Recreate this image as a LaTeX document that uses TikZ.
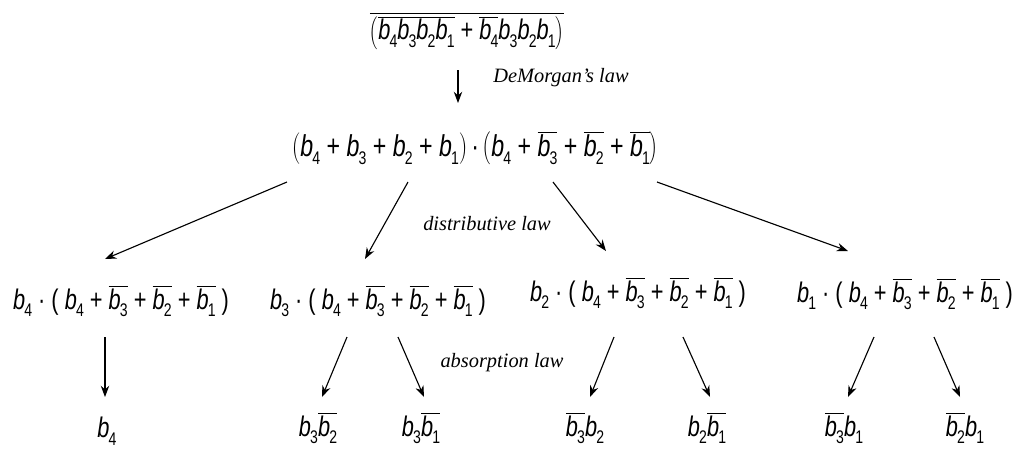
\documentclass[tikz,border=0pt]{standalone}
\usepackage{fontspec}
\usepackage{graphicx}
\setmainfont{Liberation Sans}
\newfontfamily\lawfont{Liberation Serif}
\usetikzlibrary{arrows.meta,calc}

\newcommand{\bv}[1]{\textit{b}\kern-0.04em\raisebox{-0.5ex}{\fontsize{10}{10}\selectfont #1}}
\newcommand{\nb}[1]{$\overline{\mbox{\bv{#1}}}$}
\newcommand{\vstr}[1]{\scalebox{1}[1.3]{#1}}

\begin{document}
\begin{tikzpicture}[x=0.025cm, y=-0.025cm,
    expr/.style={inner sep=0pt, font=\fontsize{15.5}{18}\selectfont},
    law/.style={inner sep=0pt, font=\lawfont\itshape\fontsize{14.5}{17}\selectfont},
    arrow/.style={-{Stealth[length=8pt,width=6pt]}, thick}
]
    \useasboundingbox (0,0) rectangle (1015,450);

    \node[expr] (top) at (467,31) {\vstr{$\overline{\left(\mbox{\nb4\nb3\nb2\nb1 + \nb4\bv3\bv2\bv1}\right)}$}};
    \node[expr, font=\fontsize{16.5}{19}\selectfont] (dem) at (475,148) {\vstr{$\left(\mbox{\bv4 + \bv3 + \bv2 + \bv1}\right)$\,·\,$\left(\mbox{\bv4 + \nb3 + \nb2 + \nb1}\right)$}};

    \node[expr] (t4) at (121,301) {\vstr{\bv4 · ( \bv4 + \nb3 + \nb2 + \nb1 )}};
    \node[expr] (t3) at (378,301) {\vstr{\bv3 · ( \bv4 + \nb3 + \nb2 + \nb1 )}};
    \node[expr] (t2) at (638,293) {\vstr{\bv2 · ( \bv4 + \nb3 + \nb2 + \nb1 )}};
    \node[expr] (t1) at (905,294) {\vstr{\bv1 · ( \bv4 + \nb3 + \nb2 + \nb1 )}};

    \node[expr] (r4) at (107,431) {\vstr{\bv4}};
    \node[expr] (r32) at (318,428) {\vstr{\bv3\nb2}};
    \node[expr] (r31) at (421,428) {\vstr{\bv3\nb1}};
    \node[expr] (r23) at (585,428) {\vstr{\nb3\bv2}};
    \node[expr] (r21) at (707,428) {\vstr{\bv2\nb1}};
    \node[expr] (r13) at (844,428) {\vstr{\nb3\bv1}};
    \node[expr] (r12) at (965,428) {\vstr{\nb2\bv1}};

    \node[law] (dm) at (561,78) {DeMorgan’s law};
    \node[law] (dl) at (487,224) {distributive law};
    \node[law] (al) at (502,363) {absorption law};

    % DeMorgan
    \draw[arrow] ($(top)+(-9,39)$) -- ($(dem)+(-17,-45)$);

    % distributive
    \draw[arrow] ($(dem)+(-188,34)$) -- ($(t4)+(-16,-42)$);
    \draw[arrow] ($(dem)+(-67,34)$) -- ($(t3)+(-13,-42)$);
    \draw[arrow] ($(dem)+(78,34)$) -- ($(t2)+(-32,-42)$);
    \draw[arrow] ($(dem)+(182,34)$) -- ($(t1)+(-57,-43)$);

    % absorption
    \draw[arrow] ($(t4)+(-16,36)$) -- ($(r4)+(-2,-34)$);
    \draw[arrow] ($(t3)+(-31,36)$) -- ($(r32)+(4,-31)$);
    \draw[arrow] ($(t3)+(20,36)$) -- ($(r31)+(3,-31)$);
    \draw[arrow] ($(t2)+(-24,44)$) -- ($(r23)+(5,-31)$);
    \draw[arrow] ($(t2)+(45,44)$) -- ($(r21)+(3,-31)$);
    \draw[arrow] ($(t1)+(-31,43)$) -- ($(r13)+(4,-31)$);
    \draw[arrow] ($(t1)+(29,43)$) -- ($(r12)+(-5,-31)$);
\end{tikzpicture}
\end{document}
